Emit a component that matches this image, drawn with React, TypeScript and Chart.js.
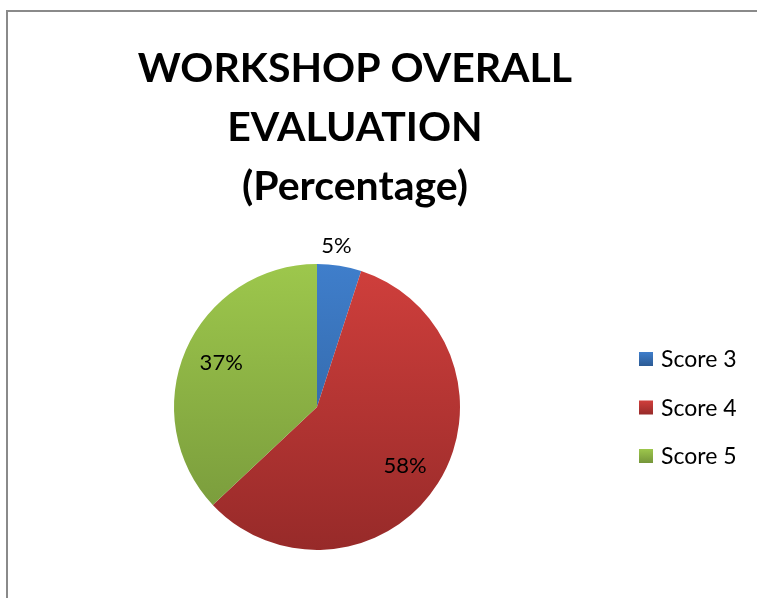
import React, { useEffect, useRef } from "react";
import { Chart, registerables } from "chart.js";

Chart.register(...registerables);

const titleLines = ["WORKSHOP OVERALL", "EVALUATION", "(Percentage)"];
const categories = ["Score 3", "Score 4", "Score 5"];
const values = [5, 58, 37];
const topColors = ["#3f7ecb", "#d03f3c", "#9dc74c"];
const bottomColors = ["#2c5b94", "#972a29", "#75963a"];

const FONT = "Lato, 'Open Sans', 'Liberation Sans', sans-serif";

export default function App() {
  const ref = useRef<HTMLCanvasElement | null>(null);

  useEffect(() => {
    if (!ref.current) return;

    const decor = {
      id: "decor",
      beforeDraw(chart: any) {
        const ctx = chart.ctx;
        ctx.save();
        ctx.fillStyle = "#ffffff";
        ctx.fillRect(0, 0, chart.width, chart.height);
        ctx.strokeStyle = "#8a8a8a";
        ctx.lineWidth = 2;
        ctx.beginPath();
        ctx.moveTo(7, chart.height);
        ctx.lineTo(7, 11);
        ctx.lineTo(chart.width, 11);
        ctx.stroke();
        ctx.restore();
      },
      afterDraw(chart: any) {
        const ctx = chart.ctx;
        ctx.save();
        // title
        ctx.fillStyle = "#000000";
        ctx.font = `bold 41px ${FONT}`;
        ctx.textAlign = "center";
        ctx.textBaseline = "alphabetic";
        titleLines.forEach((t, i) => {
          ctx.fillText(t, 355, 82 + i * 59);
        });
        // slice labels
        const meta = chart.getDatasetMeta(0);
        const total = values.reduce((a, b) => a + b, 0);
        ctx.font = `22px ${FONT}`;
        ctx.textBaseline = "middle";
        meta.data.forEach((arc: any, i: number) => {
          const p = arc.getProps(["x", "y", "startAngle", "endAngle", "outerRadius"], true);
          const mid = (p.startAngle + p.endAngle) / 2;
          const pct = values[i] / total;
          const outside = pct < 0.1;
          const f = outside ? 1.14 : 0.73;
          let x = p.x + Math.cos(mid) * p.outerRadius * f;
          const y = p.y + Math.sin(mid) * p.outerRadius * f;
          if (outside) x -= 6;
          ctx.fillText(`${Math.round(pct * 100)}%`, x, y + (outside ? 0 : -3 * Math.sign(Math.sin(mid)) * -1));
        });
        // legend
        ctx.textAlign = "left";
        ctx.font = `23px ${FONT}`;
        categories.forEach((c, i) => {
          const cy = 359 + i * 48.5;
          const g = ctx.createLinearGradient(0, cy - 7, 0, cy + 7);
          g.addColorStop(0, topColors[i]);
          g.addColorStop(1, bottomColors[i]);
          ctx.fillStyle = g;
          ctx.fillRect(639, cy - 7, 14, 14);
          ctx.fillStyle = "#000000";
          ctx.fillText(c, 661, cy + 1);
        });
        ctx.restore();
      },
    };

    const chart = new Chart(ref.current, {
      type: "pie",
      data: {
        labels: categories,
        datasets: [
          {
            data: values,
            borderWidth: 0,
            backgroundColor: (c: any) => {
              const area = c.chart.chartArea;
              if (!area) return topColors[c.dataIndex];
              const g = c.chart.ctx.createLinearGradient(0, area.top, 0, area.bottom);
              g.addColorStop(0, topColors[c.dataIndex]);
              g.addColorStop(1, bottomColors[c.dataIndex]);
              return g;
            },
          },
        ],
      },
      options: {
        responsive: false,
        animation: false,
        devicePixelRatio: 1,
        layout: { padding: { left: 174, right: 297, top: 264, bottom: 48 } },
        plugins: {
          legend: { display: false },
          title: { display: false },
          tooltip: { enabled: false },
        },
      },
      plugins: [decor],
    });
    return () => chart.destroy();
  }, []);

  return (
    <div style={{ position: "fixed", left: 0, top: 0, width: 757, height: 598 }}>
      <canvas ref={ref} width={757} height={598} style={{ display: "block" }} />
    </div>
  );
}
